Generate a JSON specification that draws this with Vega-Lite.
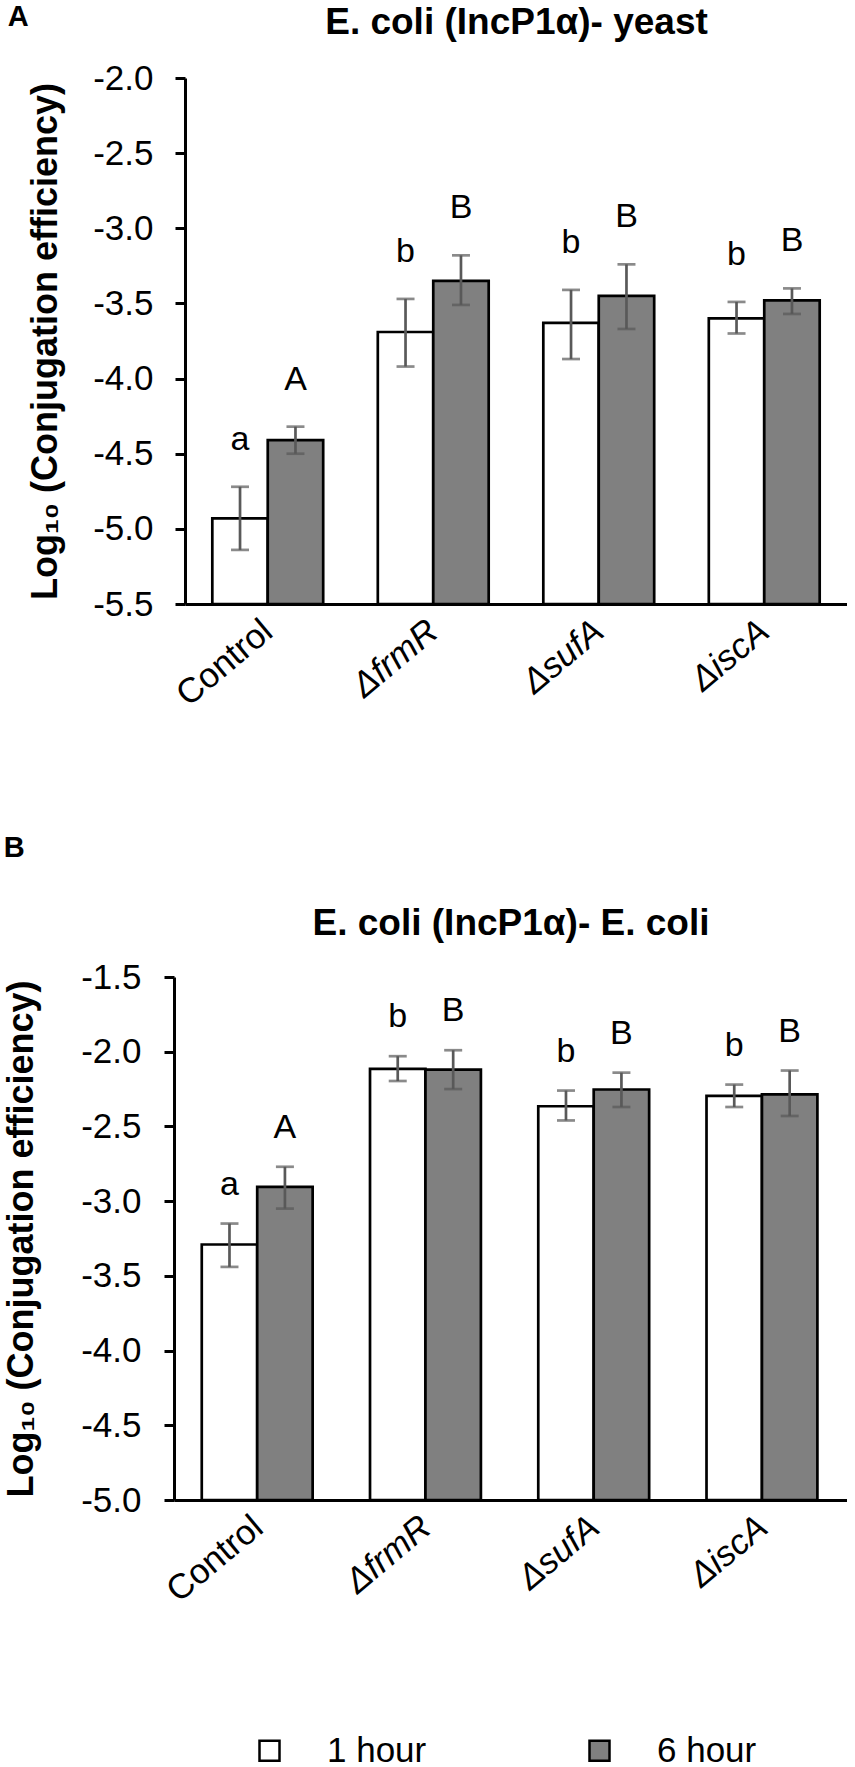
{
  "$schema": "https://vega.github.io/schema/vega-lite/v6.json",
  "padding": {"left": 3, "top": 3, "right": 0, "bottom": 0},
  "background": "white",
  "config": {
    "font": "Liberation Sans",
    "view": {"stroke": null},
    "axis": {"grid": false, "domainColor": "black", "tickColor": "black", "domainWidth": 3, "tickWidth": 3, "labelColor": "black", "titleColor": "black", "labelFontSize": 35, "titleFontSize": 36, "titleFontWeight": "bold"},
    "title": {"color": "black", "fontWeight": "bold", "fontSize": 29}
  },
  "datasets": {
    "yeast": [
      {"strain": "Control", "time": "1 hour", "mean": -4.93, "lo": -5.14, "hi": -4.72, "letter": "a"},
      {"strain": "Control", "time": "6 hour", "mean": -4.41, "lo": -4.50, "hi": -4.32, "letter": "A"},
      {"strain": "ΔfrmR", "time": "1 hour", "mean": -3.69, "lo": -3.92, "hi": -3.47, "letter": "b"},
      {"strain": "ΔfrmR", "time": "6 hour", "mean": -3.35, "lo": -3.51, "hi": -3.18, "letter": "B"},
      {"strain": "ΔsufA", "time": "1 hour", "mean": -3.63, "lo": -3.87, "hi": -3.41, "letter": "b"},
      {"strain": "ΔsufA", "time": "6 hour", "mean": -3.45, "lo": -3.67, "hi": -3.24, "letter": "B"},
      {"strain": "ΔiscA", "time": "1 hour", "mean": -3.60, "lo": -3.70, "hi": -3.49, "letter": "b"},
      {"strain": "ΔiscA", "time": "6 hour", "mean": -3.48, "lo": -3.57, "hi": -3.40, "letter": "B"}
    ],
    "ecoli": [
      {"strain": "Control", "time": "1 hour", "mean": -3.29, "lo": -3.44, "hi": -3.15, "letter": "a"},
      {"strain": "Control", "time": "6 hour", "mean": -2.905, "lo": -3.05, "hi": -2.77, "letter": "A"},
      {"strain": "ΔfrmR", "time": "1 hour", "mean": -2.115, "lo": -2.196, "hi": -2.03, "letter": "b"},
      {"strain": "ΔfrmR", "time": "6 hour", "mean": -2.12, "lo": -2.25, "hi": -1.99, "letter": "B"},
      {"strain": "ΔsufA", "time": "1 hour", "mean": -2.365, "lo": -2.46, "hi": -2.26, "letter": "b"},
      {"strain": "ΔsufA", "time": "6 hour", "mean": -2.253, "lo": -2.37, "hi": -2.14, "letter": "B"},
      {"strain": "ΔiscA", "time": "1 hour", "mean": -2.296, "lo": -2.37, "hi": -2.22, "letter": "b"},
      {"strain": "ΔiscA", "time": "6 hour", "mean": -2.285, "lo": -2.43, "hi": -2.126, "letter": "B"}
    ]
  },
  "spacing": 121,
  "vconcat": [
    {
      "width": 673,
      "height": 526,
      "data": {"name": "yeast"},
      "title": {"text": "A", "anchor": "start", "frame": "bounds", "dx": -20, "dy": 33},
      "layer": [
        {
          "encoding": {
            "x": {"field": "strain", "type": "nominal", "sort": ["Control", "ΔfrmR", "ΔsufA", "ΔiscA"], "scale": {"range": [11, 673], "paddingInner": 0.33, "paddingOuter": 0.165},
              "axis": {"orient": "bottom", "title": null, "ticks": false, "labelAngle": -40, "labelAlign": "right", "labelBaseline": "middle", "labelPadding": 22, "labelFontStyle": {"condition": {"test": "datum.value !== 'Control'", "value": "italic"}, "value": "normal"}}},
            "xOffset": {"field": "time", "type": "nominal", "sort": ["1 hour", "6 hour"], "scale": {"paddingInner": 0, "paddingOuter": 0}}
          },
          "layer": [
            {
              "mark": {"type": "bar", "stroke": "black", "strokeWidth": 2.7},
              "encoding": {
                "y": {"field": "mean", "type": "quantitative", "title": "Log₁₀ (Conjugation efficiency)", "scale": {"domain": [-5.5, -2.0], "nice": false, "zero": false},
                  "axis": {"values": [-5.5, -5.0, -4.5, -4.0, -3.5, -3.0, -2.5, -2.0], "labelExpr": "(datum.value < 0 ? '-' : '') + format(abs(datum.value), '.1f')", "tickSize": 10, "labelPadding": 22, "titlePadding": 28, "offset": -11}},
                "y2": {"datum": -5.5},
                "color": {"field": "time", "type": "nominal", "scale": {"domain": ["1 hour", "6 hour"], "range": ["#ffffff", "#808080"]},
                  "legend": {"orient": "none", "legendX": 78, "legendY": 1655, "direction": "horizontal", "title": null, "symbolType": "square", "symbolSize": 400, "symbolStrokeColor": "black", "symbolStrokeWidth": 2.5, "labelFontSize": 35, "labelOffset": 40, "columnPadding": 155, "labelColor": "black", "symbolOpacity": 1}}
              }
            },
            {
              "mark": {"type": "rule", "color": "#595959", "strokeWidth": 2.7},
              "encoding": {"y": {"field": "lo", "type": "quantitative", "title": "Log₁₀ (Conjugation efficiency)"}, "y2": {"field": "hi"}}
            },
            {
              "mark": {"type": "tick", "color": "#595959", "thickness": 2.7, "size": 18},
              "encoding": {"y": {"field": "lo", "type": "quantitative", "title": "Log₁₀ (Conjugation efficiency)"}}
            },
            {
              "mark": {"type": "tick", "color": "#595959", "thickness": 2.7, "size": 18},
              "encoding": {"y": {"field": "hi", "type": "quantitative", "title": "Log₁₀ (Conjugation efficiency)"}}
            }
          ]
        },
        {
          "mark": {"type": "text", "fontSize": 34, "dy": -47, "baseline": "middle", "color": "black"},
          "encoding": {
            "x": {"field": "strain", "type": "nominal", "sort": ["Control", "ΔfrmR", "ΔsufA", "ΔiscA"], "title": "E. coli (IncP1α)- yeast",
              "axis": {"orient": "top", "labels": false, "ticks": false, "domain": false, "tickSize": 0, "labelPadding": 0, "titlePadding": 45, "titleBaseline": "alphabetic", "titleFontSize": 37}},
            "xOffset": {"field": "time", "type": "nominal", "sort": ["1 hour", "6 hour"]},
            "y": {"field": "hi", "type": "quantitative", "title": "Log₁₀ (Conjugation efficiency)"},
            "text": {"field": "letter"}
          }
        }
      ],
      "resolve": {"axis": {"x": "independent"}}
    },
    {
      "width": 673,
      "height": 523,
      "data": {"name": "ecoli"},
      "title": {"text": "B", "anchor": "start", "frame": "bounds", "dx": 0, "dy": -37},
      "layer": [
        {
          "encoding": {
            "x": {"field": "strain", "type": "nominal", "sort": ["Control", "ΔfrmR", "ΔsufA", "ΔiscA"], "scale": {"paddingInner": 0.33, "paddingOuter": 0.165},
              "axis": {"orient": "bottom", "title": null, "ticks": false, "labelAngle": -40, "labelAlign": "right", "labelBaseline": "middle", "labelPadding": 22, "labelFontStyle": {"condition": {"test": "datum.value !== 'Control'", "value": "italic"}, "value": "normal"}}},
            "xOffset": {"field": "time", "type": "nominal", "sort": ["1 hour", "6 hour"], "scale": {"paddingInner": 0, "paddingOuter": 0}}
          },
          "layer": [
            {
              "mark": {"type": "bar", "stroke": "black", "strokeWidth": 2.7},
              "encoding": {
                "y": {"field": "mean", "type": "quantitative", "title": "Log₁₀ (Conjugation efficiency)", "scale": {"domain": [-5.0, -1.5], "nice": false, "zero": false},
                  "axis": {"values": [-5.0, -4.5, -4.0, -3.5, -3.0, -2.5, -2.0, -1.5], "labelExpr": "(datum.value < 0 ? '-' : '') + format(abs(datum.value), '.1f')", "tickSize": 10, "labelPadding": 23, "titlePadding": 40}},
                "y2": {"datum": -5.0},
                "color": {"field": "time", "type": "nominal", "scale": {"domain": ["1 hour", "6 hour"], "range": ["#ffffff", "#808080"]},
                  "legend": {"orient": "none", "legendX": 78, "legendY": 1655, "direction": "horizontal", "title": null, "symbolType": "square", "symbolSize": 400, "symbolStrokeColor": "black", "symbolStrokeWidth": 2.5, "labelFontSize": 35, "labelOffset": 40, "columnPadding": 155, "labelColor": "black", "symbolOpacity": 1}}
              }
            },
            {
              "mark": {"type": "rule", "color": "#595959", "strokeWidth": 2.7},
              "encoding": {"y": {"field": "lo", "type": "quantitative", "title": "Log₁₀ (Conjugation efficiency)"}, "y2": {"field": "hi"}}
            },
            {
              "mark": {"type": "tick", "color": "#595959", "thickness": 2.7, "size": 18},
              "encoding": {"y": {"field": "lo", "type": "quantitative", "title": "Log₁₀ (Conjugation efficiency)"}}
            },
            {
              "mark": {"type": "tick", "color": "#595959", "thickness": 2.7, "size": 18},
              "encoding": {"y": {"field": "hi", "type": "quantitative", "title": "Log₁₀ (Conjugation efficiency)"}}
            }
          ]
        },
        {
          "mark": {"type": "text", "fontSize": 34, "dy": -39, "baseline": "middle", "color": "black"},
          "encoding": {
            "x": {"field": "strain", "type": "nominal", "sort": ["Control", "ΔfrmR", "ΔsufA", "ΔiscA"], "title": "E. coli (IncP1α)- E. coli",
              "axis": {"orient": "top", "labels": false, "ticks": false, "domain": false, "tickSize": 0, "labelPadding": 0, "titlePadding": 43, "titleBaseline": "alphabetic", "titleFontSize": 37}},
            "xOffset": {"field": "time", "type": "nominal", "sort": ["1 hour", "6 hour"]},
            "y": {"field": "hi", "type": "quantitative", "title": "Log₁₀ (Conjugation efficiency)"},
            "text": {"field": "letter"}
          }
        }
      ],
      "resolve": {"axis": {"x": "independent"}}
    }
  ]
}
